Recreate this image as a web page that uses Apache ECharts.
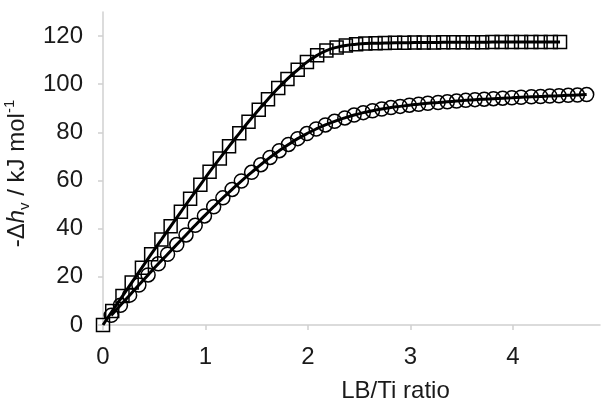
<!DOCTYPE html>
<html>
<head>
<meta charset="utf-8">
<script src="https://cdn.jsdelivr.net/npm/echarts@6/dist/echarts.min.js"></script>
<style>
    html, body { margin: 0; padding: 0; background: #fff; }
    #chart { width: 602px; height: 400px; }
</style>
</head>
<body>
<div id="chart"></div>
<script>
// Datos
let squareX = [0, 0.09, 0.19, 0.28, 0.38, 0.47, 0.57, 0.66, 0.76, 0.85, 0.95, 1.04, 1.14, 1.23, 1.33, 1.42,
    1.52, 1.61, 1.71, 1.80, 1.90, 1.99, 2.09, 2.18, 2.28, 2.37, 2.47, 2.56, 2.66, 2.75, 2.85, 2.94,
    3.04, 3.13, 3.23, 3.32, 3.42, 3.51, 3.61, 3.70, 3.80, 3.89, 3.99, 4.08, 4.18, 4.27, 4.37, 4.46];
let squareY = [0, 5.8, 12.0, 17.6, 23.8, 29.4, 35.5, 41.0, 47.0, 52.4, 58.2, 63.6, 69.2, 74.2, 79.6, 84.4,
    89.4, 93.8, 98.4, 102.2, 106.0, 109.2, 112.0, 114.0, 115.3, 116.1, 116.6, 116.9, 117.0, 117.1, 117.2, 117.2,
    117.3, 117.3, 117.3, 117.4, 117.4, 117.4, 117.4, 117.4, 117.5, 117.5, 117.5, 117.5, 117.5, 117.5, 117.5, 117.5];

let circleX = [0.08, 0.17, 0.26, 0.35, 0.44, 0.54, 0.63, 0.72, 0.81, 0.90, 0.99, 1.08, 1.17, 1.26, 1.35, 1.45,
    1.54, 1.63, 1.72, 1.81, 1.90, 1.99, 2.08, 2.17, 2.26, 2.36, 2.45, 2.54, 2.63, 2.72, 2.81, 2.90,
    2.99, 3.08, 3.17, 3.27, 3.36, 3.45, 3.54, 3.63, 3.72, 3.81, 3.90, 3.99, 4.08, 4.18, 4.27, 4.36,
    4.45, 4.54, 4.63, 4.72];
let circleY = [4.0, 8.2, 12.4, 16.6, 20.8, 25.4, 29.4, 33.4, 37.4, 41.4, 45.3, 49.1, 52.8, 56.3, 59.8, 63.4,
    66.6, 69.6, 72.4, 75.0, 77.4, 79.5, 81.4, 83.1, 84.6, 86.0, 87.2, 88.2, 89.0, 89.7, 90.3, 90.8,
    91.3, 91.7, 92.1, 92.4, 92.7, 93.0, 93.3, 93.6, 93.8, 94.0, 94.2, 94.4, 94.6, 94.8, 94.9, 95.1,
    95.2, 95.4, 95.5, 95.7];

let xTicks = [0, 1, 2, 3, 4];
let yTicks = [0, 20, 40, 60, 80, 100, 120];

function pairs(xs, ys) {
    return xs.map(function (x, i) {
        return [x, ys[i]];
    });
}

let chart = echarts.init(document.getElementById('chart'));

let font = 'Liberation Sans, Arial, sans-serif';
let axisGray = '#d0d0d0';
let textColor = '#1a1a1a';

let option = {
    animation: false,
    textStyle: { fontFamily: font },

    grid: {
        left: 103,
        right: 2,
        top: 12,
        bottom: 75,
        containLabel: false,
        outerBoundsMode: 'none',
    },

    xAxis: {
        type: 'value',
        min: 0,
        max: 4.85,
        name: 'LB/Ti ratio',
        nameLocation: 'middle',
        nameGap: 54,
        nameTextStyle: {
            fontSize: 24,
            color: textColor,
            fontFamily: font,
            padding: [0, 0, 0, 88],
        },
        axisLine: { lineStyle: { color: axisGray, width: 1.5 } },
        axisTick: {
            show: true,
            length: 5,
            customValues: xTicks,
            lineStyle: { color: axisGray, width: 1.5 },
        },
        axisLabel: {
            customValues: xTicks,
            fontSize: 24,
            color: textColor,
            margin: 20,
        },
        splitLine: { show: false },
    },

    yAxis: {
        type: 'value',
        min: 0,
        max: 130,
        name: '-Δ{i|h}{sub|v} / kJ mol{sup|-1}',
        nameLocation: 'middle',
        nameGap: 58,
        nameRotate: 90,
        nameTextStyle: {
            fontSize: 24,
            color: textColor,
            fontFamily: font,
            lineHeight: 30,
            padding: [0, 10, 0, 0],
            rich: {
                i: { fontSize: 24, fontStyle: 'italic', color: textColor, lineHeight: 30, fontFamily: font },
                sub: { fontSize: 15, color: textColor, verticalAlign: 'bottom', lineHeight: 16, fontFamily: font },
                sup: { fontSize: 15, color: textColor, verticalAlign: 'top', lineHeight: 16, fontFamily: font },
            },
        },
        axisLine: { show: true, lineStyle: { color: axisGray, width: 1.5 } },
        axisTick: {
            show: true,
            length: 5,
            customValues: yTicks,
            lineStyle: { color: axisGray, width: 1.5 },
        },
        axisLabel: {
            customValues: yTicks,
            fontSize: 24,
            color: textColor,
            margin: 20,
        },
        splitLine: { show: false },
    },

    series: [
        {
            name: 'squares',
            type: 'line',
            data: pairs(squareX, squareY),
            smooth: true,
            clip: false,
            symbol: 'rect',
            symbolSize: 13,
            showAllSymbol: true,
            lineStyle: { color: '#000', width: 3 },
            itemStyle: { color: 'rgba(0,0,0,0)', borderColor: '#000', borderWidth: 1.5 },
            z: 3,
        },
        {
            name: 'circles',
            type: 'line',
            data: pairs(circleX, circleY),
            smooth: true,
            clip: false,
            symbol: 'circle',
            symbolSize: 14,
            showAllSymbol: true,
            lineStyle: { color: '#000', width: 3 },
            itemStyle: { color: 'rgba(0,0,0,0)', borderColor: '#000', borderWidth: 1.5 },
            z: 2,
        },
    ],
};

chart.setOption(option);

window.addEventListener('resize', function () {
    chart.resize();
});
</script>
</body>
</html>
